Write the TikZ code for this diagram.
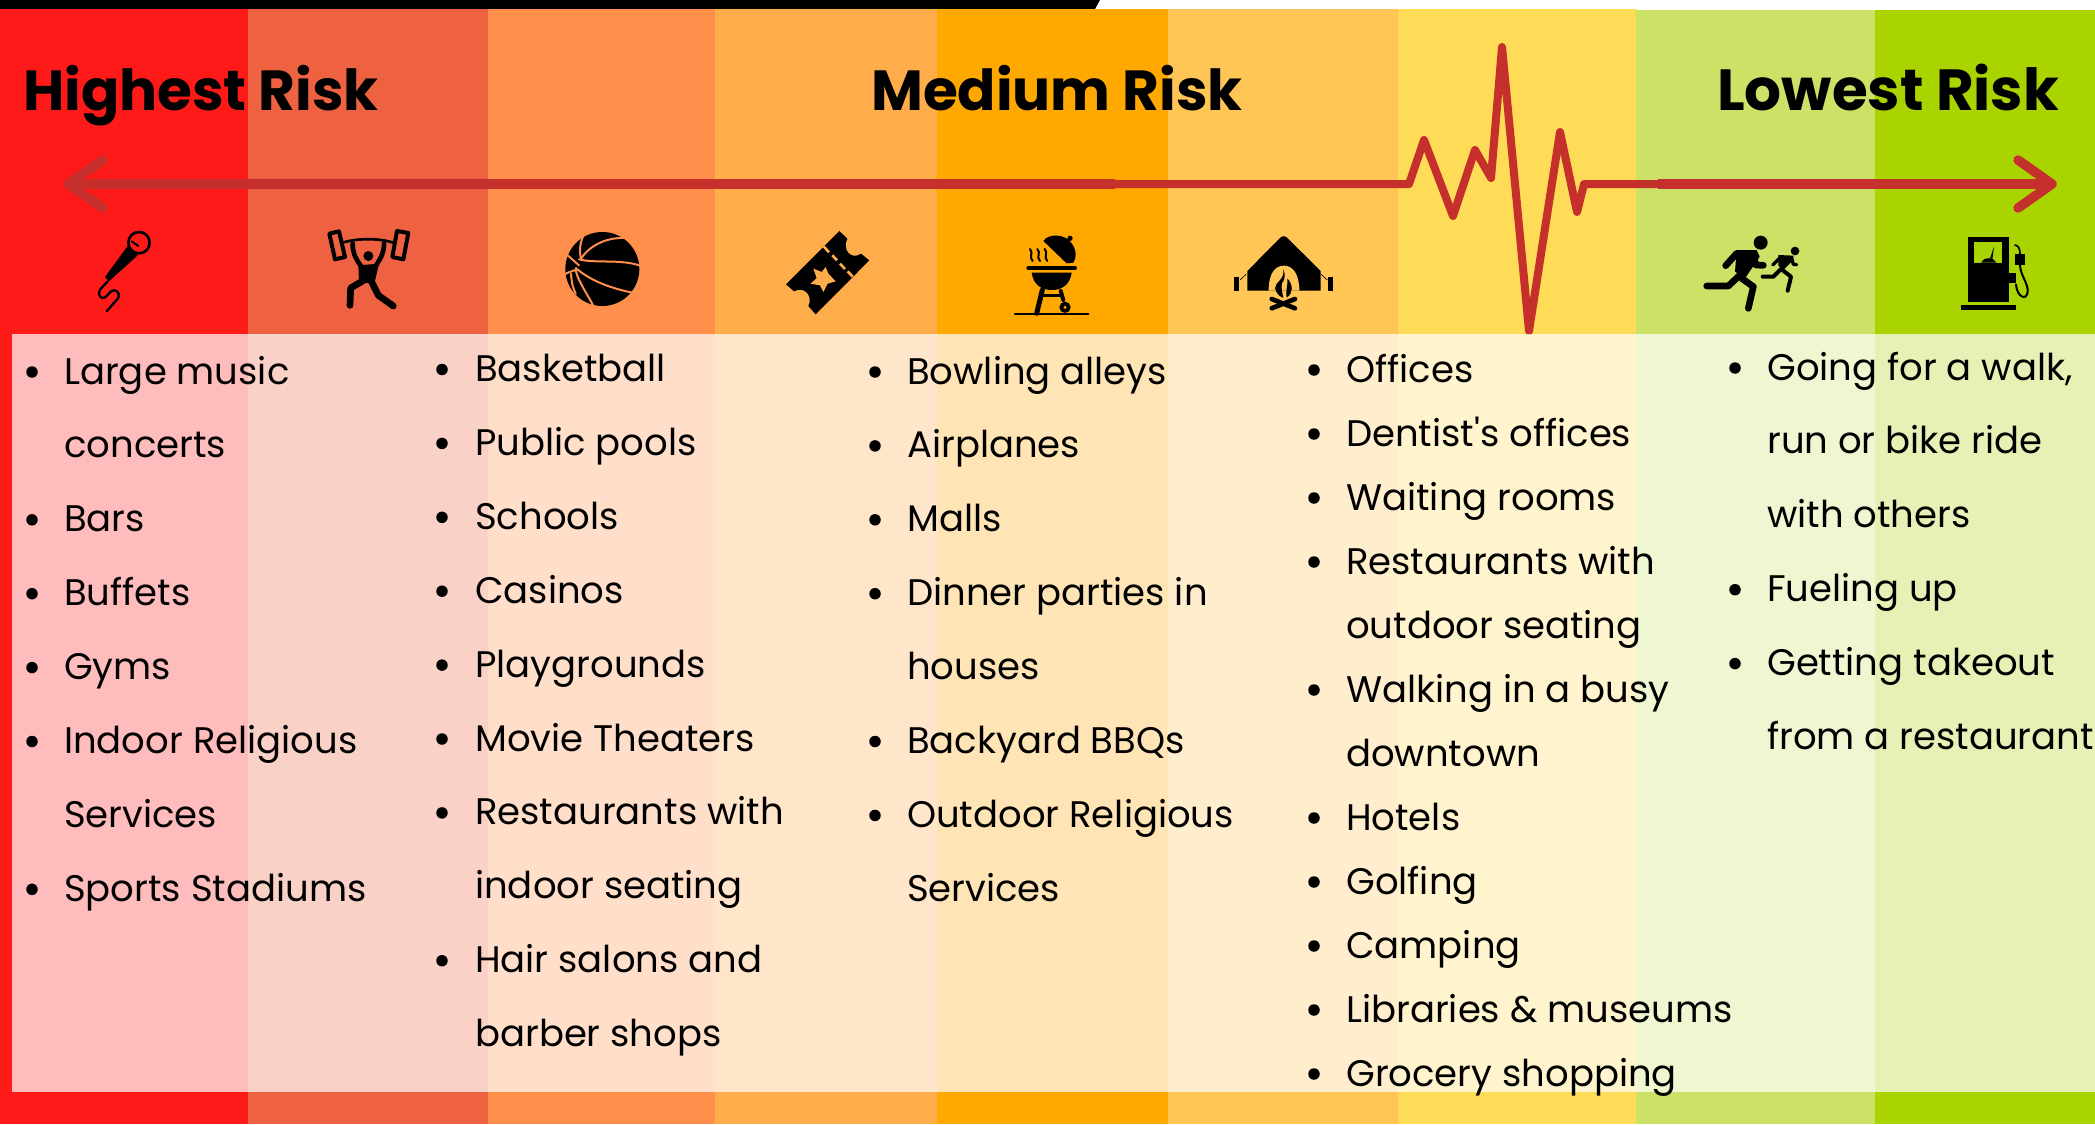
\documentclass[tikz,border=0pt]{standalone}
\usepackage{fontspec}
\newfontfamily\pop{Poppins}
\definecolor{c1}{HTML}{FF1A1A}
\definecolor{c2}{HTML}{EE6241}
\definecolor{c3}{HTML}{FF8F4A}
\definecolor{c4}{HTML}{FFAC4B}
\definecolor{c5}{HTML}{FFA800}
\definecolor{c6}{HTML}{FFC555}
\definecolor{c7}{HTML}{FFDC58}
\definecolor{c8}{HTML}{CBE267}
\definecolor{c9}{HTML}{AAD400}
\definecolor{pulse}{HTML}{C5302C}
\tikzset{
  heading/.style={anchor=base west,inner sep=0pt,font=\pop\fontsize{56.5}{56.5}\selectfont\bfseries},
  item/.style={anchor=base west,inner sep=0pt,font=\pop\fontsize{37}{37}\selectfont},
  dot/.style={circle,fill=black,inner sep=0pt,minimum size=11.5pt},
  pulseline/.style={draw=pulse,line width=8pt,line join=round,line cap=round},
  thick pulse/.style={draw=pulse,line width=9.5pt,line cap=round,line join=round},
  iconarea/.style={x=0.33333pt,y=-0.33333pt},
  w/.style={line width=#1*0.33333pt,line cap=round,line join=round},
}
\newcommand{\listcol}[6]{%
  \foreach \b/\t [count=\i from 0] in {#6}{%
    \pgfmathsetmacro{\yy}{#4+#5*\i}%
    \node[item] (#1t\i) at (#3,\yy) {\t};
    \ifnum\b=1 \node[dot] (#1b\i) at (#2,\yy-12) {};\fi
  }%
}
\begin{document}
\begin{tikzpicture}[x=1pt,y=-1pt]
\useasboundingbox (0,0) rectangle (2095,1124);
\fill[white] (0,0) rectangle (2095,1124);
\fill[black] (0,0) -- (1100,0) -- (1095,9) -- (0,9) -- cycle;
% colour bands
\fill[c1] (0,9) rectangle (248.5,1124);
\fill[c2] (248,9) rectangle (488.5,1124);
\fill[c3] (488,9) rectangle (715.5,1124);
\fill[c4] (715,9) rectangle (937.5,1124);
\fill[c5] (937,9) rectangle (1168.5,1124);
\fill[c6] (1168,9) rectangle (1398.5,1124);
\fill[c7] (1398,9) rectangle (1636.5,1124);
\fill[c8] (1636,10) rectangle (1875.5,1124);
\fill[c9] (1875,10) rectangle (2095,1124);
% pulse line
\coordinate (lt) at (68,184);
\coordinate (la) at (103,160);
\coordinate (lb) at (103,208);
\coordinate (m1) at (1115,184);
\coordinate (m2) at (1658,184);
\coordinate (rt) at (2052,184);
\coordinate (ra) at (2018,160);
\coordinate (rb) at (2018,208);
\draw[thick pulse,line cap=butt] (lt) -- (m1);
\draw[pulseline] (m1) -- (1409,184) -- (1424,140) -- (1453,216) -- (1475,150) -- (1491,178) -- (1502,47) -- (1529,331) -- (1560,132) -- (1577,212) -- (1584,184) -- (m2);
\draw[thick pulse,line cap=butt] (m2) -- (rt);
\draw[thick pulse] (la) -- (lt) -- (lb);
\draw[thick pulse] (ra) -- (rt) -- (rb);
% translucent panel
\fill[white,opacity=.71] (12,334) rectangle (2095,1092);
% headings
\node[heading] (h1) at (23,110) {Highest Risk};
\node[heading] (h2) at (871,110) {Medium Risk};
\node[heading,font=\pop\fontsize{58}{58}\selectfont\bfseries] (h3) at (1717,110) {Lowest Risk};
% lists
\listcol{a}{32}{64}{384}{73.9}{1/Large music,0/concerts,1/Bars,1/Buffets,1/Gyms,1/Indoor Religious,0/Services,1/Sports Stadiums}
\listcol{b}{442}{475}{381.5}{73.9}{1/Basketball,1/Public pools,1/Schools,1/Casinos,1/Playgrounds,1/Movie Theaters,1/Restaurants with,0/indoor seating,1/Hair salons and,0/barber shops}
\listcol{c}{875}{907}{384}{73.9}{1/Bowling alleys,1/Airplanes,1/Malls,1/Dinner parties in,0/houses,1/Backyard BBQs,1/Outdoor Religious,0/Services}
\listcol{d}{1314}{1346}{382}{64}{1/Offices,1/Dentist's offices,1/Waiting rooms,1/Restaurants with,0/outdoor seating,1/Walking in a busy,0/downtown,1/Hotels,1/Golfing,1/Camping,1/Libraries \& museums,1/Grocery shopping}
\listcol{e}{1735}{1767}{380}{73.9}{1/{Going for a walk,},0/run or bike ride,0/with others,1/Fueling up,1/Getting takeout,0/from a restaurant}
% microphone and lifter
\begin{scope}[shift={(85,222)},iconarea]
\draw[w=8] (162,62) circle (32);
\draw[w=6] (140,58) -- (160,72);
\fill (128,72) -- (158,100) -- (72,178) -- (60,165) -- cycle;
\draw[w=7] (68,178) -- (45,203) .. controls (35,220) and (50,235) .. (62,225) -- (78,208) .. controls (90,198) and (108,212) .. (100,228) -- (65,268);
\draw[w=12] (733,35) -- (762,28) -- (780,105) -- (750,112) -- cycle;
\draw[w=12] (936,27) -- (970,33) -- (955,112) -- (922,105) -- cycle;
\draw[w=8] (772,62) .. controls (820,48) and (880,48) .. (925,62);
\draw[w=14] (803,65) .. controls (803,90) and (808,105) .. (830,135);
\draw[w=14] (897,65) .. controls (897,90) and (890,105) .. (870,135);
\fill (820,130) -- (882,125) -- (868,185) -- (822,180) -- cycle;
\fill (850,102) circle (15);
\draw[w=20] (845,170) -- (797,198) -- (795,250);
\draw[w=20] (860,180) -- (880,220) -- (925,252);
\end{scope}
% basketball and ticket
\begin{scope}[shift={(555,222)},iconarea]
\fill (142,141) circle (111);
\draw[c3,w=6] (78,110) .. controls (100,75) and (150,45) .. (210,48);
\draw[c3,w=6] (88,35) .. controls (75,60) and (72,85) .. (78,110);
\draw[c3,w=6] (38,100) -- (72,130);
\draw[c3,w=6] (72,112) .. controls (120,125) and (200,110) .. (258,132);
\draw[c3,w=6] (62,138) .. controls (100,170) and (150,195) .. (232,212);
\draw[c3,w=6] (28,158) .. controls (40,150) and (50,148) .. (65,143);
\draw[c3,w=6] (62,145) .. controls (70,180) and (100,220) .. (118,258);
\draw[c3,w=6] (48,155) .. controls (50,180) and (52,195) .. (62,215);
\fill (853,27) -- (877,50) .. controls (860,85) and (890,115) .. (918,95) -- (943,115) -- (782,277) -- (760,252) .. controls (775,225) and (750,190) .. (717,208) -- (693,187) -- cycle;
\draw[c4,line width=2.6pt] (806,73) -- (822,91) (832,100) -- (846,115) (855,125) -- (870,141) (878,148) -- (893,164);
\fill[c4] (812,135) -- (820,155) -- (842,178) -- (818,185) -- (805,210) -- (795,190) -- (767,185) -- (785,168) -- (775,140) -- (800,150) -- cycle;
\end{scope}
% grill and tent
\begin{scope}[shift={(1010,225)},iconarea]
\fill (100,48) .. controls (115,25) and (165,25) .. (185,55) .. controls (200,75) and (200,100) .. (190,113) -- (170,115) -- cycle;
\fill (180,40) circle (8);
\foreach \d in {0,22,44}{
  \draw[w=6] (60+\d,72) .. controls (72+\d,85) and (55+\d,95) .. (68+\d,108);
}
\draw[w=12] (55,130) -- (195,130);
\fill (65,143) -- (185,143) .. controls (180,180) and (155,195) .. (125,195) .. controls (95,195) and (70,180) .. (65,143) -- cycle;
\draw[w=15] (97,195) -- (80,265);
\draw[w=8] (100,212) -- (150,212);
\draw[w=12] (152,198) -- (160,225);
\fill (165,247) circle (17);
\fill[c5] (165,247) circle (5);
\draw[w=7] (15,267) -- (235,267);
\fill (712,138) -- (812,37) .. controls (818,32) and (824,32) .. (830,37) -- (932,138) -- (932,197) -- (712,197) -- cycle;
\fill[c6] (776,197) .. controls (776,145) and (795,122) .. (822,122) .. controls (850,122) and (868,150) .. (868,197) -- cycle;
\fill (820,132) .. controls (825,165) and (795,170) .. (795,190) .. controls (800,210) and (815,218) .. (820,218) .. controls (815,195) and (810,175) .. (822,165) .. controls (826,150) and (824,142) .. (820,132) -- cycle;
\fill (832,160) .. controls (850,180) and (850,205) .. (830,218) .. controls (825,200) and (835,180) .. (832,160) -- cycle;
\draw[w=14] (785,222) -- (855,250);
\draw[w=14] (855,222) -- (785,250);
\fill (673,157) rectangle (687,197);
\fill (954,157) rectangle (968,197);
\draw[w=2] (690,165) -- (708,148);
\draw[w=2] (933,148) -- (952,165);
\end{scope}
% runners and fuel pump
\begin{scope}[shift={(1695,225)},iconarea]
\fill (197,53) circle (21);
\fill (125,75) -- (185,75) -- (194,95) -- (150,160) -- (120,140) -- cycle;
\draw[w=20] (130,85) -- (125,85) -- (92,122);
\draw[w=20] (175,90) -- (183,120) -- (205,121);
\draw[w=20] (135,150) -- (100,183) -- (35,183);
\draw[w=20] (140,160) -- (175,185) -- (160,250);
\fill (300,78) circle (13);
\fill (250,90) -- (295,92) -- (295,105) -- (265,135) -- (250,122) -- cycle;
\draw[w=10] (255,98) -- (233,120);
\draw[w=10] (290,100) -- (295,118) -- (305,119);
\draw[w=12] (260,130) -- (235,155) -- (203,155);
\draw[w=12] (262,135) -- (288,155) -- (278,197);
\fill (819,37) rectangle (943,232);
\fill[c9] (838,52) rectangle (922,113);
\fill (858,113) .. controls (865,95) and (895,95) .. (905,113) -- cycle;
\fill (885,100) -- (897,65) -- (892,104) -- cycle;
\fill (798,240) rectangle (963,255);
\fill (943,145) rectangle (963,175);
\fill (959,87) rectangle (990,120);
\draw[w=6] (963,178) .. controls (965,215) and (995,230) .. (998,200) .. controls (1000,175) and (975,150) .. (975,118);
\draw[w=5] (975,87) .. controls (975,70) and (970,62) .. (960,60);
\end{scope}
\end{tikzpicture}
\end{document}
